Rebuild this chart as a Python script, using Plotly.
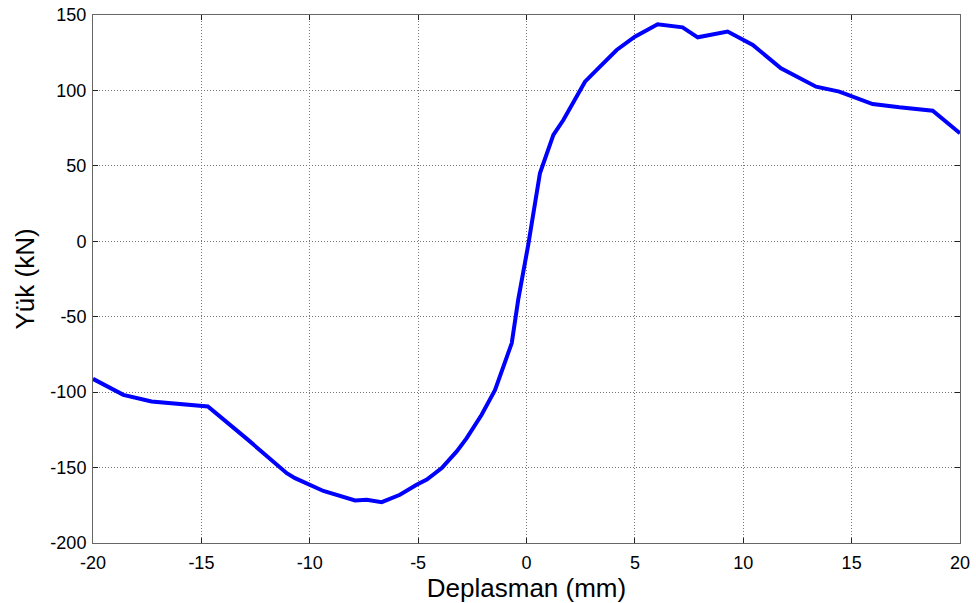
import plotly.graph_objects as go

# Load–displacement envelope
deplasman = [-20.0, -18.6, -17.3, -16.3, -14.7, -12.9, -11.06, -10.68, -9.37, -7.91,
             -7.37, -6.68, -5.84, -5.07, -4.6, -3.91, -3.22, -2.76, -2.07, -1.45,
             -0.68, -0.38, 0.08, 0.62, 1.24, 1.70, 2.70, 3.24, 4.16, 5.0,
             6.05, 7.2, 7.9, 9.28, 10.44, 11.74, 13.36, 14.43, 15.97, 17.2,
             18.74, 20.0]
yuk = [-91.2, -101.8, -106.2, -107.3, -109.5, -131.0, -153.7, -157.0, -165.5, -171.8,
       -171.3, -172.9, -168.0, -161.4, -158.0, -150.3, -139.3, -130.5, -115.0, -98.5,
       -67.5, -38.5, -2.4, 45.1, 70.5, 80.4, 105.8, 113.6, 126.8, 135.6,
       143.8, 141.8, 135.2, 139.0, 130.1, 114.7, 102.5, 99.2, 91.0, 88.8,
       86.6, 71.6]

x_ticks = [-20, -15, -10, -5, 0, 5, 10, 15, 20]
y_ticks = [-200, -150, -100, -50, 0, 50, 100, 150]

font_family = "Arial, Liberation Sans, sans-serif"

fig = go.Figure()
fig.add_trace(go.Scatter(
    x=deplasman, y=yuk, mode="lines",
    line=dict(color="#0000FF", width=4),
    showlegend=False, hoverinfo="skip",
))

axis_common = dict(
    showline=True, linecolor="#666666", linewidth=1, mirror="ticks",
    ticks="inside", ticklen=5, tickcolor="#222222", tickwidth=1,
    showgrid=True, gridcolor="#777777", griddash="1px,2px", gridwidth=1,
    zeroline=False, automargin=False,
    tickfont=dict(family=font_family, size=18, color="black"),
)

fig.update_xaxes(
    range=[-20, 20], tickvals=x_ticks, ticktext=[str(v) for v in x_ticks],
    ticklabelstandoff=3,
    title=dict(text="Deplasman (mm)", font=dict(family=font_family, size=26, color="black"),
               standoff=2),
    **axis_common,
)
fig.update_yaxes(
    range=[-200, 150], tickvals=y_ticks, ticktext=[str(v) for v in y_ticks],
    ticklabelstandoff=2,
    title=dict(text="Yük (kN)", font=dict(family=font_family, size=26, color="black"),
               standoff=8),
    **axis_common,
)

fig.update_layout(
    width=976, height=603,
    margin=dict(l=93, r=16, t=15, b=60),
    paper_bgcolor="white", plot_bgcolor="white",
)

fig.write_html("out.html")
